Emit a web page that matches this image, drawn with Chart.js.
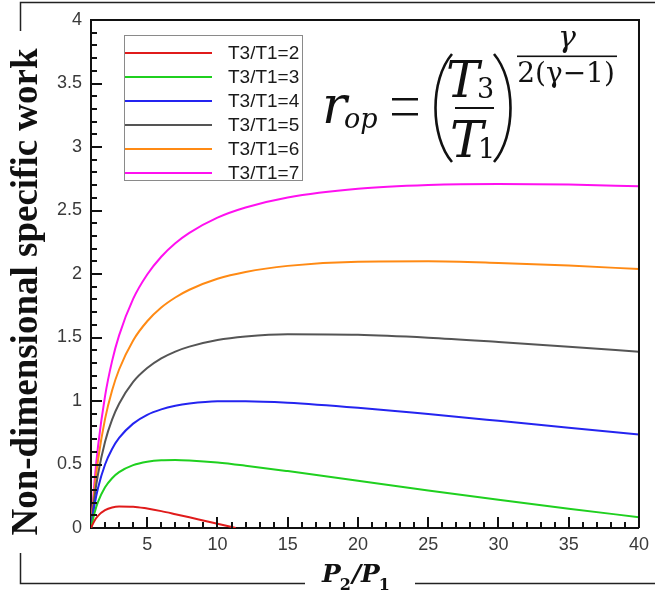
<!DOCTYPE html>
<html>
<head>
<meta charset="utf-8">
<script src="https://cdn.jsdelivr.net/npm/chart.js@4.4.1/dist/chart.umd.min.js"></script>
<style>
  html, body { margin: 0; padding: 0; background: #fff; }
  canvas { display: block; }
</style>
</head>
<body>
<canvas id="workChart" width="655" height="598"></canvas>
<script>
// data
const pressureRatio = [1, 1.25, 1.5, 2, 2.5, 3, 4, 5, 6, 7, 8, 10, 12, 15, 20, 25, 30, 35, 40];
const pressureRatioT2 = [1, 1.25, 1.5, 2, 2.5, 3, 4, 5, 6, 7, 8, 10, 11.3];

const workT2 = [0, 0.058, 0.096, 0.140, 0.162, 0.170, 0.168, 0.153, 0.133, 0.109, 0.084, 0.034, 0];
const workT3 = [0, 0.119, 0.205, 0.320, 0.392, 0.440, 0.495, 0.522, 0.534, 0.536, 0.532, 0.516, 0.491, 0.448, 0.372, 0.296, 0.222, 0.152, 0.085];
const workT4 = [0, 0.181, 0.315, 0.500, 0.622, 0.709, 0.822, 0.891, 0.934, 0.962, 0.980, 0.998, 0.999, 0.987, 0.947, 0.897, 0.844, 0.790, 0.737];
const workT5 = [0, 0.243, 0.424, 0.680, 0.853, 0.978, 1.150, 1.259, 1.335, 1.389, 1.428, 1.480, 1.508, 1.526, 1.522, 1.499, 1.465, 1.428, 1.388];
const workT6 = [0, 0.305, 0.534, 0.859, 1.083, 1.248, 1.477, 1.628, 1.736, 1.815, 1.876, 1.962, 2.016, 2.064, 2.097, 2.100, 2.087, 2.066, 2.039];
const workT7 = [0, 0.367, 0.643, 1.039, 1.314, 1.517, 1.804, 1.996, 2.136, 2.242, 2.324, 2.444, 2.524, 2.603, 2.672, 2.701, 2.709, 2.704, 2.691];

const seriesLabels = ['T3/T1=2', 'T3/T1=3', 'T3/T1=4', 'T3/T1=5', 'T3/T1=6', 'T3/T1=7'];
const seriesColors = ['#e01b1b', '#1fd01f', '#2424f0', '#555555', '#ff8a14', '#ff10f0'];

const xTickValues = [5, 10, 15, 20, 25, 30, 35, 40];
const yTickValues = [0, 0.5, 1, 1.5, 2, 2.5, 3, 3.5, 4];

// تحويل المصفوفات الى نقاط
function toPoints(xs, ys) {
    return xs.map((x, i) => ({ x: x, y: ys[i] }));
}

const allWork = [workT2, workT3, workT4, workT5, workT6, workT7];
const datasets = allWork.map((ys, i) => ({
    label: seriesLabels[i],
    data: toPoints(i === 0 ? pressureRatioT2 : pressureRatio, ys),
    borderColor: seriesColors[i],
    backgroundColor: seriesColors[i],
    borderWidth: 2,
    pointRadius: 0,
    cubicInterpolationMode: 'monotone',
    fill: false
}));

const tickFont = { family: '"Liberation Sans", Arial, sans-serif', size: 18 };

// inward ticks, frame box, legend, titles and formula
const decorPlugin = {
    id: 'decor',
    afterDraw(chart) {
        const ctx = chart.ctx;
        const area = chart.chartArea;
        const xs = chart.scales.x;
        const ys = chart.scales.y;

        ctx.save();
        ctx.strokeStyle = '#111';
        ctx.fillStyle = '#111';
        ctx.lineWidth = 2;
        // top and right border
        ctx.beginPath();
        ctx.moveTo(area.left, area.top);
        ctx.lineTo(area.right, area.top);
        ctx.lineTo(area.right, area.bottom);
        ctx.stroke();

        // x ticks (inward)
        for (let v = 2; v < 40; v++) {
            const px = Math.round(xs.getPixelForValue(v));
            const len = (v % 5 === 0) ? 11 : 6;
            ctx.fillRect(px - 1, area.bottom - len, 2, len);
        }
        // y ticks (inward)
        for (let k = 1; k < 40; k++) {
            const py = Math.round(ys.getPixelForValue(k / 10));
            const len = (k % 5 === 0) ? 11 : 6;
            ctx.fillRect(area.left, py - 1, len, 2);
        }

        // legend
        const lx = area.left + 33, ly = area.top + 15;
        ctx.strokeStyle = '#8a8a8a';
        ctx.lineWidth = 1;
        ctx.strokeRect(lx + 0.5, ly + 0.5, 178, 145);
        ctx.font = '19px "Liberation Sans", Arial, sans-serif';
        ctx.textBaseline = 'middle';
        ctx.textAlign = 'left';
        chart.data.datasets.forEach((ds, i) => {
            const yy = ly + 18 + i * 24;
            ctx.strokeStyle = ds.borderColor;
            ctx.lineWidth = 2;
            ctx.beginPath();
            ctx.moveTo(lx + 1, yy);
            ctx.lineTo(lx + 88, yy);
            ctx.stroke();
            ctx.fillStyle = '#1a1a1a';
            ctx.fillText(ds.label, lx + 104, yy + 1);
        });

        // outer frame
        ctx.strokeStyle = '#222';
        ctx.lineWidth = 1.5;
        ctx.beginPath();
        ctx.moveTo(20.5, 31);
        ctx.lineTo(20.5, 2.5);
        ctx.lineTo(655, 2.5);
        ctx.moveTo(20.5, 553);
        ctx.lineTo(20.5, 583.5);
        ctx.lineTo(305, 583.5);
        ctx.moveTo(415, 583.5);
        ctx.lineTo(655, 583.5);
        ctx.stroke();

        // y title
        ctx.fillStyle = '#111';
        ctx.save();
        ctx.translate(27, 292);
        ctx.rotate(-Math.PI / 2);
        ctx.font = 'bold 37px "Liberation Serif", "Times New Roman", serif';
        ctx.textAlign = 'center';
        ctx.textBaseline = 'middle';
        ctx.fillText('Non-dimensional specific work', 0, 0);
        ctx.restore();

        // x title P2/P1
        ctx.textAlign = 'left';
        ctx.textBaseline = 'alphabetic';
        const big = 'italic bold 25px "DejaVu Serif", serif';
        const sub = 'bold 16px "DejaVu Serif", serif';
        let cx = 322;
        ctx.font = big; ctx.fillText('P', cx, 582); cx += ctx.measureText('P').width - 1;
        ctx.font = sub; ctx.fillText('2', cx, 590); cx += ctx.measureText('2').width + 1;
        ctx.font = big; ctx.fillText('/', cx, 582); cx += ctx.measureText('/').width;
        ctx.fillText('P', cx, 582); cx += ctx.measureText('P').width - 1;
        ctx.font = sub; ctx.fillText('1', cx, 590);

        // formula r_op = (T3/T1)^(γ/(2(γ-1)))
        ctx.fillStyle = '#111';
        ctx.font = 'italic 52px "DejaVu Serif", serif';
        ctx.fillText('r', 322, 123);
        ctx.font = 'italic 27px "DejaVu Serif", serif';
        ctx.fillText('op', 344, 128);
        ctx.fillRect(392, 98, 26, 2.5);
        ctx.fillRect(392, 113, 26, 2.5);
        // parentheses
        ctx.strokeStyle = '#111';
        ctx.lineWidth = 2.6;
        ctx.beginPath();
        ctx.moveTo(452, 54);
        ctx.bezierCurveTo(430, 80, 430, 136, 452, 162);
        ctx.moveTo(494, 54);
        ctx.bezierCurveTo(516, 80, 516, 136, 494, 162);
        ctx.stroke();
        // fraction T3 / T1
        ctx.font = 'italic 50px "DejaVu Serif", serif';
        ctx.fillText('T', 446, 97);
        ctx.fillText('T', 450, 157);
        ctx.font = '27px "DejaVu Serif", serif';
        ctx.fillText('3', 477, 98);
        ctx.fillText('1', 478, 158);
        ctx.fillRect(455, 107, 39, 2);
        // exponent
        ctx.font = 'italic 30px "DejaVu Serif", serif';
        ctx.textAlign = 'center';
        ctx.fillText('γ', 567, 47);
        ctx.fillRect(517, 55.5, 100, 1.6);
        ctx.font = '28px "DejaVu Serif", serif';
        ctx.fillText('2(γ−1)', 566, 82);
        ctx.restore();
    }
};

new Chart(document.getElementById('workChart'), {
    type: 'line',
    data: { datasets: datasets },
    options: {
        responsive: false,
        animation: false,
        layout: { padding: { left: 0, right: 10, top: 20, bottom: 0 } },
        plugins: {
            legend: { display: false },
            tooltip: { enabled: false }
        },
        scales: {
            x: {
                type: 'linear',
                min: 1,
                max: 40,
                afterBuildTicks: (scale) => { scale.ticks = xTickValues.map(v => ({ value: v })); },
                afterFit: (scale) => { scale.height = 70; },
                ticks: { font: tickFont, color: '#3a3a3a', padding: 6, maxRotation: 0, autoSkip: false,
                         callback: (v) => String(v) },
                grid: { display: false, drawTicks: false },
                border: { display: true, color: '#111', width: 2 }
            },
            y: {
                type: 'linear',
                min: 0,
                max: 4,
                afterBuildTicks: (scale) => { scale.ticks = yTickValues.map(v => ({ value: v })); },
                afterFit: (scale) => { scale.width = 91; },
                ticks: { font: tickFont, color: '#3a3a3a', padding: 9, autoSkip: false,
                         callback: (v) => String(v) },
                grid: { display: false, drawTicks: false },
                border: { display: true, color: '#111', width: 2 }
            }
        }
    },
    plugins: [decorPlugin]
});
</script>
</body>
</html>
